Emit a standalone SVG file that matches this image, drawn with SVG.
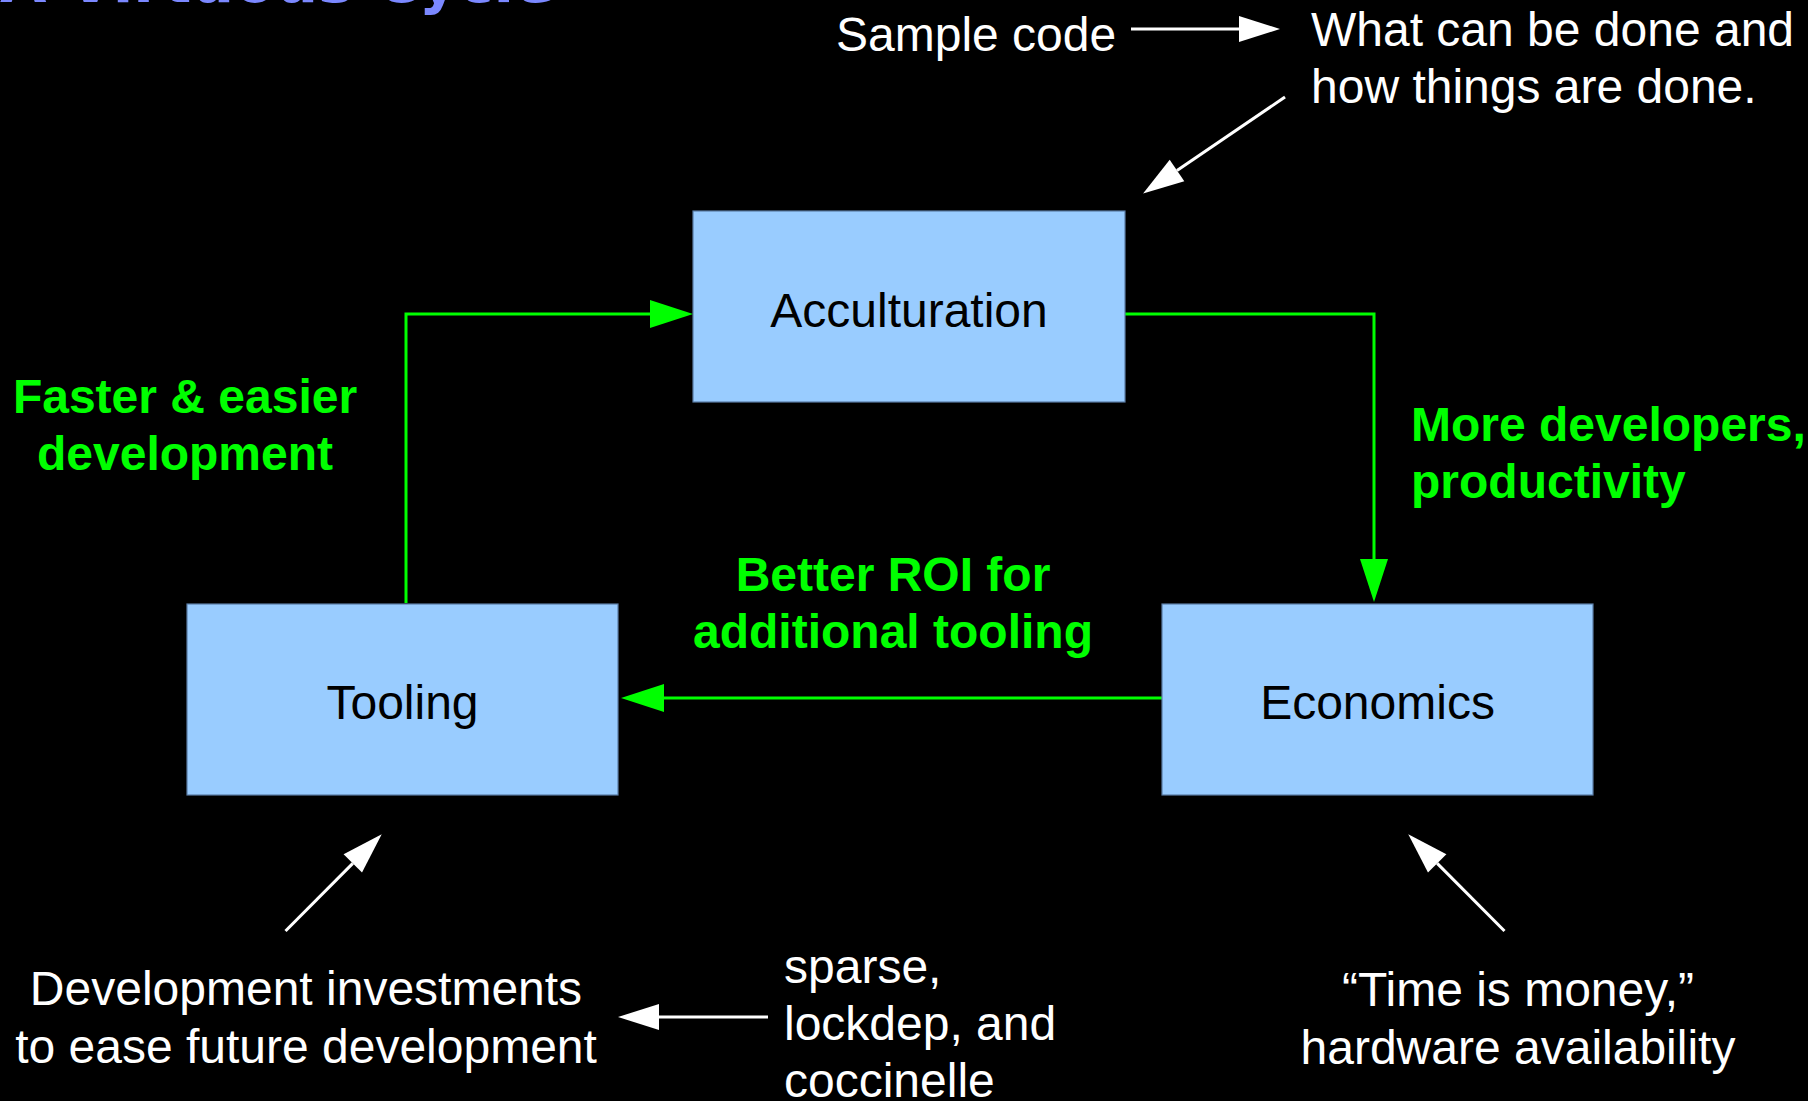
<svg xmlns="http://www.w3.org/2000/svg" width="1808" height="1101" viewBox="0 0 1808 1101">
  <style>
    .box { fill: #99ccff; stroke: #5a7ca6; stroke-width: 1.2; }
    .lbl { font-family: "Liberation Sans", Arial, sans-serif; font-size: 48px; fill: #000000; text-anchor: middle; }
    .note { font-family: "Liberation Sans", Arial, sans-serif; font-size: 48px; fill: #ffffff; }
    .glbl { font-family: "Liberation Sans", Arial, sans-serif; font-size: 48px; font-weight: bold; fill: #00ff00; }
    .gline { fill: none; stroke: #00ff00; stroke-width: 3; }
    .wline { fill: none; stroke: #ffffff; stroke-width: 3; }
    .title { font-family: "DejaVu Sans", sans-serif; font-weight: bold; font-size: 60px; fill: #7b88ff; }
  </style>
  <defs>
    <marker id="garrow" markerUnits="userSpaceOnUse" markerWidth="44" markerHeight="30" refX="0" refY="14" orient="auto" overflow="visible">
      <path d="M0,0 L43,14 L0,28 Z" fill="#00ff00"/>
    </marker>
    <marker id="warrow" markerUnits="userSpaceOnUse" markerWidth="44" markerHeight="30" refX="0" refY="13" orient="auto" overflow="visible">
      <path d="M0,0 L41,13 L0,26 Z" fill="#ffffff"/>
    </marker>
  </defs>
  <rect x="0" y="0" width="1808" height="1101" fill="#000000"/>

  <text class="title" x="0" y="2">A Virtuous Cycle</text>

  <g id="connectors">
    <path class="gline" d="M406,603 V314 H650" marker-end="url(#garrow)"/>
    <path class="gline" d="M1125,314 H1374 V559" marker-end="url(#garrow)"/>
    <path class="gline" d="M1162,698 H664" marker-end="url(#garrow)"/>
    <path class="wline" d="M1131,29 H1239" marker-end="url(#warrow)"/>
    <path class="wline" d="M1285,97 L1177,170.5" marker-end="url(#warrow)"/>
    <path class="wline" d="M285.5,931 L352.8,863.4" marker-end="url(#warrow)"/>
    <path class="wline" d="M1504.5,931 L1437.2,863.4" marker-end="url(#warrow)"/>
    <path class="wline" d="M768,1017 H659" marker-end="url(#warrow)"/>
  </g>

  <g id="acculturation">
    <rect class="box" x="693" y="211" width="432" height="191"/>
    <text class="lbl" x="909" y="327">Acculturation</text>
  </g>
  <g id="tooling">
    <rect class="box" x="187" y="604" width="431" height="191"/>
    <text class="lbl" x="402.5" y="719">Tooling</text>
  </g>
  <g id="economics">
    <rect class="box" x="1162" y="604" width="431" height="191"/>
    <text class="lbl" x="1377.5" y="719">Economics</text>
  </g>

  <g id="label-faster">
    <text class="glbl" text-anchor="middle" x="185" y="413">Faster &amp; easier</text>
    <text class="glbl" text-anchor="middle" x="185" y="470">development</text>
  </g>
  <g id="label-more">
    <text class="glbl" x="1411" y="441">More developers,</text>
    <text class="glbl" x="1411" y="498">productivity</text>
  </g>
  <g id="label-roi">
    <text class="glbl" text-anchor="middle" x="893" y="591">Better ROI for</text>
    <text class="glbl" text-anchor="middle" x="893" y="648">additional tooling</text>
  </g>

  <g id="note-sample">
    <text class="note" x="836" y="51">Sample code</text>
  </g>
  <g id="note-what">
    <text class="note" x="1311" y="46">What can be done and</text>
    <text class="note" x="1311" y="103">how things are done.</text>
  </g>
  <g id="note-devinv">
    <text class="note" text-anchor="middle" x="306" y="1005">Development investments</text>
    <text class="note" text-anchor="middle" x="306" y="1063">to ease future development</text>
  </g>
  <g id="note-sparse">
    <text class="note" x="784" y="983">sparse,</text>
    <text class="note" x="784" y="1040">lockdep, and</text>
    <text class="note" x="784" y="1097">coccinelle</text>
  </g>
  <g id="note-time">
    <text class="note" text-anchor="middle" x="1518" y="1006">“Time is money,”</text>
    <text class="note" text-anchor="middle" x="1518" y="1064">hardware availability</text>
  </g>
</svg>
